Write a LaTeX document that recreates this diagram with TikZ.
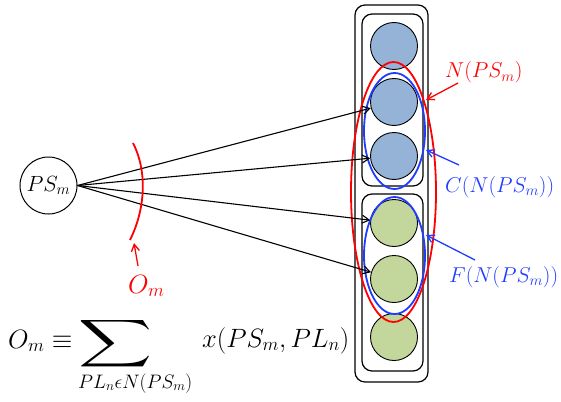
\RequirePackage{fix-cm}
\documentclass[tikz,border=0pt]{standalone}
\usepackage{graphicx}
\usetikzlibrary{arrows.meta}
\definecolor{cblue}{HTML}{95B3D7}
\definecolor{cgreen}{HTML}{C3D69B}
\definecolor{lred}{HTML}{FF0000}
\definecolor{lblue}{HTML}{1F3CFF}
\begin{document}
\begin{tikzpicture}[x=1pt,y=-1pt,
  box/.style={draw,line width=1.2pt,rounded corners=10pt},
  slot/.style={circle,draw,line width=0.9pt,minimum size=47pt,inner sep=0pt},
  bslot/.style={slot,fill=cblue},
  gslot/.style={slot,fill=cgreen},
  conn/.style={line width=1.1pt,-{Straight Barb[length=7pt,width=8pt]}},
  rarrow/.style={lred,line width=1.3pt,-{Straight Barb[length=7pt,width=8pt]}},
  barrow/.style={lblue,line width=1.3pt,-{Straight Barb[length=7pt,width=8pt]}},
  lab/.style={inner sep=0pt,anchor=base west,font=\fontsize{21.5}{26}\selectfont},
  big/.style={inner sep=0pt,anchor=base west,font=\fontsize{26.5}{30}\selectfont}]
\useasboundingbox (0,0) rectangle (561,401);
% boxes
\draw[box] (355,5) rectangle (428,382);
\draw[box] (362,14) rectangle (423,186);
\draw[box] (362,194) rectangle (423,371);
% slots
\node[bslot] (c1) at (394,46) {};
\node[bslot] (c2) at (394,102) {};
\node[bslot] (c3) at (394,156) {};
\node[gslot] (c4) at (394,223) {};
\node[gslot] (c5) at (394,279) {};
\node[gslot] (c6) at (394,337) {};
% ellipses
\draw[lred,line width=1.8pt] (393.5,192) ellipse [x radius=42.5, y radius=130];
\draw[lblue,line width=1.8pt] (394.5,131) ellipse [x radius=30.5, y radius=58];
\draw[lblue,line width=1.8pt] (394.5,255.5) ellipse [x radius=30.5, y radius=58.5];
% source
\node[circle,draw,line width=1pt,minimum size=57pt,inner sep=0pt,font=\fontsize{22}{26}\selectfont] (ps) at (48.5,185.5) {$PS_m$};
\draw[conn] (ps.east) -- (c2);
\draw[conn] (ps.east) -- (c3);
\draw[conn] (ps.east) -- (c4);
\draw[conn] (ps.east) -- (c5);
% arc
\coordinate (arcT) at (133,143);
\coordinate (arcB) at (130,240);
\draw[lred,line width=1.8pt] (arcT) .. controls (147,170) and (146,208) .. (arcB);
\node[big,text=lred] (om) at (128,293) {$O_m$};
\coordinate (omt) at (138,266);
\coordinate (omh) at (134,243);
\draw[rarrow] (omt) -- (omh);
% labels
\node[lab,text=lred] (nl) at (445,78) {$N(PS_m)$};
\coordinate (nlt) at (458,83);
\coordinate (nlh) at (426,100);
\draw[rarrow] (nlt) -- (nlh);
\node[lab,text=lblue] (cl) at (445,192) {$C(N(PS_m))$};
\coordinate (clt) at (459,165);
\coordinate (clh) at (426,150);
\draw[barrow] (clt) -- (clh);
\node[lab,text=lblue] (fl) at (449,282) {$F(N(PS_m))$};
\coordinate (flt) at (475,260);
\coordinate (flh) at (426,235);
\draw[barrow] (flt) -- (flh);
% formula
\node[big] (eqL) at (8,348) {$O_m\equiv$};
\node[inner sep=0pt] (sum) at (116,343.5) {\resizebox*{74pt}{53pt}{$\displaystyle\sum$}};
\node[inner sep=0pt,anchor=base west,font=\fontsize{19.5}{23}\selectfont] (sub) at (78,388) {$PL_n\epsilon N(PS_m)$};
\node[big] (eqR) at (202,347) {$x(PS_m,PL_n)$};
\end{tikzpicture}
\end{document}
